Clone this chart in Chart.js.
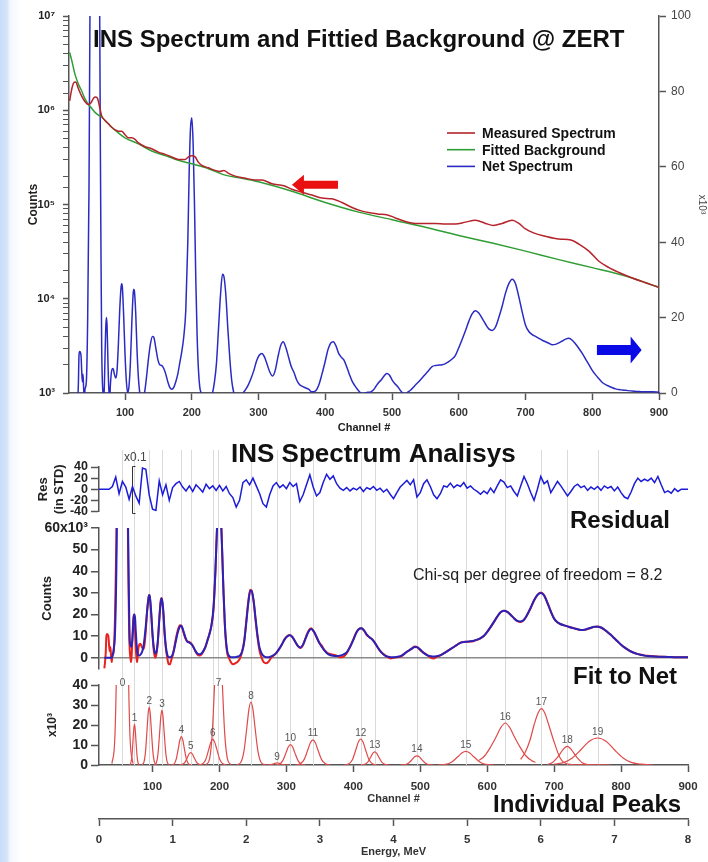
<!DOCTYPE html>
<html>
<head>
<meta charset="utf-8">
<title>INS Spectrum</title>
<script src="https://cdn.jsdelivr.net/npm/chart.js@4.4.1/dist/chart.umd.min.js"></script>
<style>
  html, body { margin: 0; padding: 0; }
  body {
    width: 708px; height: 862px; position: relative; overflow: hidden;
    background: linear-gradient(to right, #c9dcf8 0px, #d4e3fa 7px, #f3f7fd 10px, #ffffff 22px);
  }
  canvas { position: absolute; left: 0; }
  #top { top: 0; }
  #peaks { top: 440px; }
  #resid { top: 440px; }
  #fit { top: 515px; }
</style>
</head>
<body>
<canvas id="top" width="708" height="440"></canvas>
<canvas id="peaks" width="708" height="422"></canvas>
<canvas id="resid" width="708" height="82"></canvas>
<canvas id="fit" width="708" height="165"></canvas>
<script>
// ---- data ----

// measured spectrum and fitted background (counts, log axis)
const measChannels = [17, 20, 23, 26, 30, 35, 40, 45, 49, 53, 56, 59, 62, 65, 70, 75, 80, 85, 90, 95,
  100, 105, 110, 115, 120, 130, 140, 150, 160, 170, 180, 190, 195, 200, 205, 210, 215, 225, 235, 242,
  248, 255, 265, 280, 295, 305, 320, 338, 350, 365, 380, 395, 410, 425, 440, 455, 470, 480, 492, 505,
  520, 535, 550, 565, 580, 595, 610, 625, 640, 652, 665, 680, 690, 700, 712, 730, 750, 768, 780, 795,
  810, 825, 840, 860, 880, 900];
const measCounts = [1.26e6, 1.66e6, 1.95e6, 2.0e6, 1.70e6, 1.41e6, 1.23e6, 1.15e6, 1.20e6, 1.35e6, 1.38e6, 1.32e6, 1.07e6, 8.7e5, 7.8e5, 7.2e5, 6.6e5, 6.2e5, 6.0e5, 6.0e5,
  5.5e5, 5.1e5, 5.1e5, 4.9e5, 4.5e5, 4.1e5, 3.9e5, 3.6e5, 3.4e5, 3.2e5, 3.0e5, 3.0e5, 3.2e5, 3.3e5, 3.2e5, 2.8e5, 2.6e5, 2.45e5, 2.3e5, 2.24e5,
  2.3e5, 2.14e5, 2.0e5, 1.9e5, 1.82e5, 1.82e5, 1.66e5, 1.58e5, 1.45e5, 1.35e5, 1.26e5, 1.17e5, 1.15e5, 1.05e5, 9.3e4, 8.5e4, 8.1e4, 7.9e4, 7.8e4, 7.2e4,
  6.6e4, 6.3e4, 6.3e4, 6.3e4, 6.2e4, 6.2e4, 6.5e4, 6.8e4, 6.3e4, 6.0e4, 6.3e4, 6.8e4, 6.3e4, 5.5e4, 5.0e4, 4.6e4, 4.3e4, 4.2e4, 3.8e4, 3.2e4,
  2.5e4, 2.14e4, 1.9e4, 1.66e4, 1.48e4, 1.32e4];

const bgChannels = [17, 20, 25, 30, 35, 40, 45, 50, 55, 60, 65, 70, 80, 90, 100, 120, 140, 160, 180, 200,
  225, 250, 275, 300, 350, 400, 450, 500, 550, 600, 650, 700, 750, 800, 850, 900];
const bgCounts = [4.1e6, 3.4e6, 2.4e6, 1.9e6, 1.6e6, 1.32e6, 1.15e6, 1.05e6, 9.5e5, 8.9e5, 8.5e5, 7.8e5, 6.6e5, 5.75e5, 5.1e5, 4.4e5, 3.7e5, 3.3e5, 2.95e5, 2.7e5,
  2.4e5, 2.05e5, 1.9e5, 1.74e5, 1.38e5, 1.05e5, 8.3e4, 6.9e4, 5.75e4, 4.7e4, 3.9e4, 3.2e4, 2.6e4, 2.14e4, 1.74e4, 1.32e4];

// net spectrum and its fit (x10^3 counts)
const netChannels = [28, 30, 31, 32, 34, 35, 36, 37, 38, 39,
  40, 42, 44, 46, 48, 50, 53, 56, 58, 60,
  62, 63, 64, 65, 66, 67, 68, 69, 70, 71,
  72, 73, 74, 75, 76, 77, 78, 80, 82, 84,
  86, 88, 90, 92, 94, 95, 96, 98, 100, 102,
  104, 106, 108, 110, 112, 113, 114, 116, 118, 120,
  122, 124, 126, 128, 130, 132, 135, 138, 141, 143,
  146, 149, 152, 155, 158, 161, 164, 167, 170, 173,
  176, 179, 182, 185, 188, 191, 194, 196, 198, 200,
  202, 204, 206, 208, 210, 212, 214, 217, 220, 224,
  228, 231, 234, 237, 240, 243, 246, 248, 251, 254,
  257, 260, 263, 266, 270, 274, 277, 281, 285, 289,
  293, 297, 301, 305, 309, 313, 317, 321, 325, 329,
  333, 337, 341, 345, 349, 353, 357, 361, 365, 370,
  375, 380, 385, 390, 395, 400, 404, 408, 412, 416,
  420, 424, 428, 432, 436, 440, 444, 448, 452, 456,
  460, 464, 468, 472, 476, 480, 484, 488, 492, 496,
  500, 504, 508, 512, 516, 520, 524, 528, 532, 536,
  540, 545, 550, 555, 560, 565, 570, 575, 580, 585,
  590, 595, 600, 605, 610, 615, 620, 625, 630, 635,
  640, 645, 650, 655, 660, 665, 670, 675, 680, 685,
  690, 695, 700, 705, 710, 715, 720, 725, 730, 735,
  740, 745, 750, 755, 760, 765, 770, 775, 780, 785,
  790, 795, 800, 805, 810, 815, 820, 825, 830, 835,
  840, 845, 850, 860, 870, 880, 890, 900];
const netCounts = [-5, 2, 10, 11, 10, 6, 3, 5, 1, -2,
  1, 3, 20, 55, 120, 200, 300, 330, 280, 180,
  100, 65, 35, 12, 3, 0, -2, 2, 10, 17,
  20, 18, 11, 4, 0, -2, 2, 6, 6.5, 5,
  4, 6, 13, 22, 28, 29, 28, 20, 10, 3,
  0, 2, 8, 18, 26, 27.5, 27, 21, 11, 4,
  0, -3, -3, -1, 1, 4, 9, 13, 15, 14.8,
  12, 9, 7.5, 7.3, 6.5, 5, 3, 1.5, 1, 1.5,
  3, 5, 8, 11, 15, 22, 40, 58, 70, 73,
  66, 50, 30, 15, 6, 1.5, 0, -2, -3, -2.5,
  -1.5, 0, 3, 8, 17, 26, 31.5, 31, 26, 17,
  9, 3, 0, -2, -2.5, -1.5, 0, 1, 2.3, 4,
  6, 8.5, 10, 10.5, 9.5, 7.5, 5.5, 4.5, 6, 9.5,
  12.5, 13.6, 12, 9.5, 7, 5.5, 3.5, 2.3, 1.8, 1.4,
  1, 0.3, 0.5, 2, 5, 8.5, 11.5, 13.2, 13.6, 12.5,
  10.5, 9.5, 8.7, 7, 5, 3.2, 2, 1, 0.2, -0.3,
  0, 0.2, 0.3, 0.8, 1.8, 2.8, 3.5, 4.5, 5.2, 4.8,
  3.5, 2.5, 1.8, 0.8, 0, -0.3, 0.3, 0.8, 1.5, 2.3,
  3, 4, 5, 6, 7, 7.3, 7.4, 7.5, 7.8, 8.3,
  9, 10, 12, 14.2, 16.5, 19, 21, 21.8, 21.2, 19.8,
  18.3, 17, 16.6, 17.5, 20, 23, 26.5, 29, 30.2, 29,
  25.5, 21.5, 18, 16.3, 15.5, 15, 14.5, 14, 13.6, 13.2,
  12.8, 12.9, 13.3, 13.8, 14.3, 14.5, 14, 13, 11.8, 10.5,
  9, 7.5, 6, 4.8, 3.8, 2.8, 2.2, 1.8, 1.4, 1.1,
  0.9, 0.8, 0.7, 0.5, 0.4, 0.3, 0.3, 0.2];
const fitCounts = [0, 0, 0, 0, 0, 0, 0, 0, 0, 0,
  0.7, 4, 12, 42, 100, 190, 290, 325, 290, 190,
  110, 72, 45, 22, 8, 6, 5, 6, 9, 14,
  19, 20, 18, 12, 7, 3.5, 1.5, 1, 1.5, 2.5,
  4.5, 9, 15, 22, 27.5, 29, 28, 21, 11, 4.5,
  2, 3, 8, 17, 25, 27, 27.5, 22, 12, 5,
  1.5, 0.3, 0.2, 0.5, 1.5, 3.5, 8, 12, 14.5, 14.8,
  12.5, 9.5, 7.5, 7, 6.3, 5, 3.2, 2, 1.6, 2,
  3.2, 5, 8, 11, 15, 23, 41, 57, 70, 72,
  66, 49, 31, 16, 7, 2.5, 1, 0.3, 0.2, 0.3,
  0.6, 1.2, 3, 7.5, 16, 25, 31, 31, 26.5, 18,
  10, 4.5, 2, 0.8, 0.3, 0.3, 0.6, 1.2, 2.3, 4,
  6, 8.3, 9.8, 10.4, 9.6, 7.5, 5.5, 4.8, 6.2, 9.2,
  12, 13.3, 12.2, 9.7, 7, 5, 3.3, 2, 1.3, 0.9,
  0.8, 1, 1.5, 2.5, 5, 8.3, 11.3, 13.2, 13.7, 12.7,
  10.8, 9.5, 8.5, 7, 5, 3.2, 1.8, 0.9, 0.5, 0.3,
  0.3, 0.4, 0.6, 1, 1.8, 2.8, 3.6, 4.4, 5, 4.8,
  3.8, 2.6, 1.6, 1, 0.7, 0.6, 0.7, 1, 1.5, 2.2,
  3, 4, 5, 6, 6.9, 7.3, 7.4, 7.6, 7.9, 8.4,
  9.1, 10.2, 12, 14.2, 16.6, 19, 21, 21.7, 21.2, 19.9,
  18.3, 17.1, 16.8, 17.6, 20, 23.2, 26.6, 29.1, 30, 28.8,
  25.3, 21.4, 18.1, 16.4, 15.5, 15, 14.5, 14, 13.6, 13.2,
  12.9, 13, 13.4, 13.9, 14.3, 14.4, 14, 13.1, 11.8, 10.5,
  9, 7.5, 6, 4.8, 3.8, 2.9, 2.2, 1.7, 1.3, 1,
  0.8, 0.7, 0.6, 0.5, 0.4, 0.3, 0.3, 0.2];

// residual in STD, one value every 5 channels from channel 20
const residStart = 20;
const residStep = 5;
const residuals = [0, 0, 0, 0, 5, 22, -8, 14, 4, -18,
  5, -12, -25, 38, 36, -10, -36, -38, 15, -10,
  8, -20, 3, 10, 14, 4, -3, 6, -4, 8,
  2, -5, 9, 1, 6, -2, 7, -3, 5, -8,
  -15, -32, -20, 12, 17, 8, 20, 6, -8, -26,
  -32, -10, 6, 12, 3, 8, 1, 12, 5, 10,
  -22, -10, 8, 26, 4, -12, -6, 12, 27, 18,
  24, 10, 2, -2, 3, -3, 2, -1, 4, -4,
  3, 0, 5, -2, 2, -5, 0, -9, -17, -6,
  4, 10, 16, 8, 17, -14, -6, 10, 17, 5,
  -10, -17, -8, 6, 4, 11, 3, 8, 5, 12,
  2, 6, 0, -4, -9, -3, -8, 2, -6, 6,
  17, 13, 3, 6, -4, -12, 6, 23, 10, -6,
  -20, 0, 23, 10, 15, -6, 4, 14, 6, -3,
  -12, -4, 5, 9, 3, 6, -2, 4, 0, 5,
  -2, 6, 2, 5, -3, 4, -6, -14, -17, -5,
  10, 20, 14, 18, 15, 20, 12, 23, 8, -6,
  -3, -7, 1, -4, 0, 0, 0];

// individual fitted peaks (x10^3 counts)
const peakCentroids = [55, 73, 95, 114, 143, 157, 190, 198.5, 247, 286, 306, 339.5, 411, 432, 495, 568, 627, 681, 719.5, 765];
const peakChannels = [
  [39.3, 43.8, 47.1, 50.5, 52.8, 55, 57.3, 59.5, 62.9, 66.3, 70.8],
  [65.3, 67.5, 69.2, 70.8, 71.9, 73, 74.1, 75.2, 76.9, 78.5, 80.7],
  [83.8, 87, 89.4, 91.8, 93.4, 95, 96.6, 98.2, 100.6, 103, 106.2],
  [102.5, 105.8, 108.2, 110.7, 112.4, 114, 115.6, 117.3, 119.8, 122.2, 125.5],
  [128, 132.3, 135.5, 138.7, 140.9, 143, 145.2, 147.3, 150.5, 153.8, 158],
  [139.5, 144.5, 148.3, 152, 154.5, 157, 159.5, 162, 165.8, 169.5, 174.5],
  [169, 175, 179.5, 184, 187, 190, 193, 196, 200.5, 205, 211],
  [180, 185.3, 189.2, 193.2, 195.9, 198.5, 201.2, 203.8, 207.8, 211.8, 217],
  [226, 232, 236.5, 241, 244, 247, 250, 253, 257.5, 262, 268],
  [268.5, 273.5, 277.3, 281, 283.5, 286, 288.5, 291, 294.8, 298.5, 303.5],
  [283.3, 289.8, 294.6, 299.5, 302.8, 306, 309.3, 312.5, 317.4, 322.3, 328.8],
  [313.3, 320.8, 326.4, 332, 335.8, 339.5, 343.3, 347, 352.6, 358.3, 365.8],
  [386.5, 393.5, 398.8, 404, 407.5, 411, 414.5, 418, 423.3, 428.5, 435.5],
  [411, 417, 421.5, 426, 429, 432, 435, 438, 442.5, 447, 453],
  [470.5, 477.5, 482.8, 488, 491.5, 495, 498.5, 502, 507.3, 512.5, 519.5],
  [526, 538, 547, 556, 562, 568, 574, 580, 589, 598, 610],
  [588, 596, 605, 614, 620, 627, 634, 640, 649, 658, 666, 672],
  [650, 657, 664, 670, 676, 681, 686, 692, 699, 709, 720, 740, 785],
  [690, 697, 704, 710, 715, 719.5, 724, 729, 735, 742, 750, 760],
  [700, 715, 727, 740, 752, 765, 778, 790, 803, 815, 830, 848]
];
const peakCounts = [
  [0.7, 14.5, 71, 200, 291, 330, 291, 200, 71, 14.5, 0.7],
  [0, 0.9, 4.4, 12.3, 17.9, 20.3, 17.9, 12.3, 4.4, 0.9, 0],
  [0.1, 1.3, 6.3, 17.6, 25.6, 29, 25.6, 17.6, 6.3, 1.3, 0.1],
  [0.1, 1.2, 5.9, 16.7, 24.3, 27.5, 24.3, 16.7, 5.9, 1.2, 0.1],
  [0, 0.6, 3.1, 8.6, 12.5, 14.2, 12.5, 8.6, 3.1, 0.6, 0],
  [0, 0.3, 1.3, 3.8, 5.5, 6.2, 5.5, 3.8, 1.3, 0.3, 0],
  [0, 0.6, 2.8, 7.8, 11.3, 12.8, 11.3, 7.8, 2.8, 0.6, 0],
  [0.1, 3.2, 15.8, 44.3, 64.4, 73, 64.4, 44.3, 15.8, 3.2, 0.1],
  [0.1, 1.4, 6.8, 19.1, 27.8, 31.5, 27.8, 19.1, 6.8, 1.4, 0.1],
  [0, 0, 0.2, 0.6, 0.9, 1, 0.9, 0.6, 0.2, 0, 0],
  [0, 0.4, 2.2, 6.2, 9, 10.2, 9, 6.2, 2.2, 0.4, 0],
  [0, 0.6, 2.7, 7.6, 11.1, 12.6, 11.1, 7.6, 2.7, 0.6, 0],
  [0, 0.6, 2.8, 7.9, 11.5, 13, 11.5, 7.9, 2.8, 0.6, 0],
  [0, 0.3, 1.4, 4, 5.8, 6.6, 5.8, 4, 1.4, 0.3, 0],
  [0, 0.2, 1, 2.8, 4.1, 4.6, 4.1, 2.8, 1, 0.2, 0],
  [0, 0.3, 1.5, 4.1, 6, 6.8, 6, 4.1, 1.5, 0.3, 0],
  [2.3, 4.5, 9, 14.5, 18.5, 21, 18.5, 14.5, 9, 4.5, 2.3, 1.3],
  [2.8, 6.5, 12.5, 20, 26, 28.2, 26, 20, 12.5, 3.5, 0.5, 0.1, 0],
  [0.3, 1.1, 3.4, 6.2, 8.4, 9.3, 8.4, 6.2, 3.4, 1.1, 0.2, 0],
  [0.4, 1.3, 3.5, 7.6, 11.8, 13.5, 11.8, 7.6, 3.5, 1.3, 0.4, 0]
];

// tick values
const channelTicks = [100, 200, 300, 400, 500, 600, 700, 800, 900];
const energyTicks = [0, 1, 2, 3, 4, 5, 6, 7, 8];
const rightTicks = [0, 20, 40, 60, 80, 100];
const residTicks = [-40, -20, 0, 20, 40];
const fitTicks = [0, 10, 20, 30, 40, 50, 60];
const peakTicks = [0, 10, 20, 30, 40];

// ---- drawing ----
const FONT = "'Liberation Sans', Arial, Helvetica, sans-serif";
Chart.defaults.font.family = FONT;
Chart.defaults.color = '#222';

function pts(xs, ys) {
  return xs.map((x, i) => ({ x: x, y: ys[i] }));
}
function fixTicks(list) {
  return function (s) { s.ticks = list.map(v => ({ value: v })); };
}
const SUP = { '0': '⁰', '1': '¹', '2': '²', '3': '³', '4': '⁴', '5': '⁵', '6': '⁶', '7': '⁷', '8': '⁸', '9': '⁹' };
function decade(v) {
  const e = Math.log10(v);
  if (Math.abs(e - Math.round(e)) > 1e-6) return '';
  return '10' + String(Math.round(e)).split('').map(c => SUP[c]).join('');
}
function arrow(c, x0, x1, yc, shaft, headLen, headH, color) {
  const dir = Math.sign(x1 - x0);
  const xb = x1 - dir * headLen;
  c.fillStyle = color;
  c.beginPath();
  c.moveTo(x0, yc - shaft / 2);
  c.lineTo(xb, yc - shaft / 2);
  c.lineTo(xb, yc - headH / 2);
  c.lineTo(x1, yc);
  c.lineTo(xb, yc + headH / 2);
  c.lineTo(xb, yc + shaft / 2);
  c.lineTo(x0, yc + shaft / 2);
  c.closePath();
  c.fill();
}

const baseOpts = {
  responsive: false,
  animation: false,
  events: [],
  elements: { point: { radius: 0 }, line: { cubicInterpolationMode: 'monotone' } }
};
const noPlugins = { legend: { display: false }, tooltip: { enabled: false } };
const axisLine = { color: '#555', width: 1.5 };

// top chart: spectrum and background
const topDecor = {
  id: 'topDecor',
  afterDraw(chart) {
    const c = chart.ctx;
    const x = chart.scales.x, y = chart.scales.y, y2 = chart.scales.y2;
    c.save();
    c.fillStyle = '#111';
    c.font = 'bold 24px ' + FONT;
    c.textBaseline = 'alphabetic';
    c.fillText('INS Spectrum and Fittied Background @ ZERT', 93, 47);
    chart.data.datasets.forEach((ds, i) => {
      const ly = 133 + i * 16.7;
      c.strokeStyle = ds.borderColor;
      c.lineWidth = 1.6;
      c.beginPath();
      c.moveTo(447, ly);
      c.lineTo(475, ly);
      c.stroke();
      c.font = 'bold 14px ' + FONT;
      c.textBaseline = 'middle';
      c.fillStyle = '#111';
      c.fillText(ds.label, 482, ly + 1);
    });
    arrow(c, x.getPixelForValue(419), x.getPixelForValue(350), y.getPixelForValue(1.62e5), 8, 12, 20, '#e81010');
    arrow(c, x.getPixelForValue(807), x.getPixelForValue(874), y2.getPixelForValue(11.4), 10, 11, 27, '#0a0ae6');
    c.restore();
  }
};

new Chart(document.getElementById('top'), {
  type: 'line',
  data: {
    datasets: [
      { label: 'Measured Spectrum', data: pts(measChannels, measCounts), borderColor: '#b5232b', borderWidth: 1.5, yAxisID: 'y' },
      { label: 'Fitted Background', data: pts(bgChannels, bgCounts), borderColor: '#2f9e35', borderWidth: 1.5, yAxisID: 'y' },
      { label: 'Net Spectrum', data: pts(netChannels, netCounts), borderColor: '#2b2bc4', borderWidth: 1.5, yAxisID: 'y2' }
    ]
  },
  options: Object.assign({}, baseOpts, {
    layout: { padding: { top: 16, left: 0, right: 0, bottom: 0 } },
    plugins: noPlugins,
    scales: {
      x: {
        type: 'linear', min: 16, max: 900,
        afterBuildTicks: fixTicks(channelTicks),
        afterFit: s => { s.height = 47; },
        grid: { drawOnChartArea: false, tickLength: 7, tickColor: '#555', tickWidth: 1.5 },
        border: axisLine,
        ticks: { font: { size: 11, weight: 'bold' }, color: '#333', padding: 6, maxRotation: 0, autoSkip: false },
        title: { display: true, text: 'Channel #', font: { size: 11, weight: 'bold' }, color: '#222', padding: { top: 0, bottom: 5 } }
      },
      y: {
        type: 'logarithmic', position: 'left', min: 1e3, max: 1e7,
        afterFit: s => { s.width = 69; },
        grid: { drawOnChartArea: false, tickLength: 6, tickColor: '#555', tickWidth: ctx => (ctx.tick && decade(ctx.tick.value) ? 1.5 : 1) },
        border: axisLine,
        ticks: { callback: v => decade(v), font: { size: 11, weight: 'bold' }, color: '#222', padding: 8, autoSkip: false },
        title: { display: true, text: 'Counts', font: { size: 12, weight: 'bold' }, color: '#222', padding: { top: 26, bottom: 0 } }
      },
      y2: {
        type: 'linear', position: 'right', min: 0, max: 100,
        afterBuildTicks: fixTicks(rightTicks),
        afterFit: s => { s.width = 49; },
        grid: { drawOnChartArea: false, tickLength: 7, tickColor: '#555', tickWidth: 1.5 },
        border: axisLine,
        ticks: { font: { size: 12 }, color: '#444', padding: 5, autoSkip: false },
        title: { display: true, text: 'x10³', font: { size: 10 }, color: '#444', padding: 0 }
      }
    }
  }),
  plugins: [topDecor]
});

// bottom chart: individual peaks, plus the shared texts and peak grid lines
const bottomDecor = {
  id: 'bottomDecor',
  beforeDatasetsDraw(chart) {
    const c = chart.ctx, x = chart.scales.x;
    c.save();
    c.strokeStyle = '#dadada';
    c.lineWidth = 1;
    peakCentroids.forEach(ch => {
      const px = Math.round(x.getPixelForValue(ch)) + 0.5;
      c.beginPath();
      c.moveTo(px, 10);
      c.lineTo(px, chart.chartArea.bottom);
      c.stroke();
    });
    c.restore();
  },
  afterDraw(chart) {
    const c = chart.ctx, x = chart.scales.x, y = chart.scales.y;
    const top = chart.chartArea.top;
    c.save();
    c.fillStyle = '#111';
    c.textBaseline = 'alphabetic';
    c.font = 'bold 26px ' + FONT;
    c.fillText('INS Spectrum Analisys', 231, 22);
    c.font = 'bold 24px ' + FONT;
    c.fillText('Residual', 570, 88);
    c.fillText('Fit to Net', 573, 244);
    c.fillText('Individual Peaks', 493, 372);
    c.font = '16px ' + FONT;
    c.fillStyle = '#222';
    c.fillText('Chi-sq per degree of freedom = 8.2', 413, 140);
    // x0.1 bracket on the residual
    c.font = '12px ' + FONT;
    c.fillStyle = '#444';
    c.textBaseline = 'middle';
    c.fillText('x0.1', 124, 18);
    const bx = Math.round(x.getPixelForValue(70)) + 0.5;
    c.strokeStyle = '#333';
    c.lineWidth = 1;
    c.beginPath();
    c.moveTo(bx + 3, 26.5); c.lineTo(bx, 26.5); c.lineTo(bx, 73.5); c.lineTo(bx + 3, 73.5);
    c.stroke();
    // peak numbers
    c.font = '10px ' + FONT;
    c.fillStyle = '#555';
    c.textAlign = 'center';
    c.textBaseline = 'alphabetic';
    peakCentroids.forEach((ch, i) => {
      const h = Math.min(Math.max(...peakCounts[i]), 40);
      const py = Math.max(y.getPixelForValue(h) - 3.5, top + 1);
      c.fillText(String(i), x.getPixelForValue(ch), py);
    });
    c.restore();
  }
};

new Chart(document.getElementById('peaks'), {
  type: 'line',
  data: {
    datasets: peakChannels.map((chs, i) => ({
      data: pts(chs, peakCounts[i]), borderColor: '#e04a4a', borderWidth: 1.2
    }))
  },
  options: Object.assign({}, baseOpts, {
    layout: { padding: { top: 245, left: 0, right: 20, bottom: 0 } },
    plugins: noPlugins,
    scales: {
      x: {
        type: 'linear', position: 'bottom', weight: 0, min: 20, max: 900,
        afterBuildTicks: fixTicks(channelTicks),
        afterFit: s => { s.height = 54; },
        grid: { drawOnChartArea: false, tickLength: 7, tickColor: '#555', tickWidth: 1.5 },
        border: axisLine,
        ticks: { font: { size: 11.5, weight: 'bold' }, color: '#333', padding: 8, maxRotation: 0, autoSkip: false },
        title: { display: true, text: 'Channel #', font: { size: 11, weight: 'bold' }, color: '#333', padding: { top: 0, bottom: 13.5 } }
      },
      x2: {
        type: 'linear', position: 'bottom', weight: 1, min: 0, max: 8,
        afterBuildTicks: fixTicks(energyTicks),
        afterFit: s => { s.height = 43; },
        grid: { drawOnChartArea: false, tickLength: 7, tickColor: '#555', tickWidth: 1.5 },
        border: axisLine,
        ticks: { font: { size: 11.5, weight: 'bold' }, color: '#333', padding: 7, maxRotation: 0, autoSkip: false },
        title: { display: true, text: 'Energy, MeV', font: { size: 11, weight: 'bold' }, color: '#333', padding: { top: 0, bottom: 3.5 } }
      },
      y: {
        min: 0, max: 40,
        afterBuildTicks: fixTicks(peakTicks),
        afterFit: s => { s.width = 99; },
        grid: { drawOnChartArea: false, tickLength: 8, tickColor: '#555', tickWidth: 1.5 },
        border: axisLine,
        ticks: { font: { size: 14, weight: 'bold' }, color: '#222', padding: 3, autoSkip: false },
        title: { display: true, text: 'x10³', font: { size: 12, weight: 'bold' }, color: '#222', padding: { top: 45, bottom: 0 } }
      }
    }
  }),
  plugins: [bottomDecor]
});

// residual panel
new Chart(document.getElementById('resid'), {
  type: 'line',
  data: {
    datasets: [{
      data: residuals.map((v, i) => ({ x: residStart + i * residStep, y: v })),
      borderColor: '#1c1cd8', borderWidth: 1.5, cubicInterpolationMode: 'default', tension: 0
    }]
  },
  options: Object.assign({}, baseOpts, {
    layout: { padding: { top: 27, left: 0, right: 20, bottom: 9 } },
    plugins: noPlugins,
    scales: {
      x: { type: 'linear', min: 20, max: 900, display: false },
      y: {
        min: -40, max: 40,
        afterBuildTicks: fixTicks(residTicks),
        afterFit: s => { s.width = 99; },
        grid: { drawOnChartArea: false, tickLength: 8, tickColor: '#555', tickWidth: 1.5 },
        border: axisLine,
        ticks: { font: { size: 12.5, weight: 'bold' }, color: '#222', padding: 3, autoSkip: false },
        title: { display: true, text: ['Res', '(in STD)'], font: { size: 13, weight: 'bold' }, color: '#222', padding: { top: 36, bottom: 0 } }
      }
    }
  })
});

// fit to net panel
new Chart(document.getElementById('fit'), {
  type: 'line',
  data: {
    datasets: [
      { label: 'Fit', data: pts(netChannels, fitCounts), borderColor: '#2b22b8', borderWidth: 2 },
      { label: 'Net', data: pts(netChannels, netCounts), borderColor: '#e8221e', borderWidth: 2 }
    ]
  },
  options: Object.assign({}, baseOpts, {
    layout: { padding: { top: 13, left: 0, right: 20, bottom: 10 } },
    plugins: noPlugins,
    scales: {
      x: { type: 'linear', min: 20, max: 900, display: false },
      y: {
        min: -5, max: 60,
        afterBuildTicks: fixTicks(fitTicks),
        afterFit: s => { s.width = 99; },
        grid: {
          drawOnChartArea: true, lineWidth: 1.5,
          color: ctx => (ctx.tick && ctx.tick.value === 0 ? '#8a8a8a' : 'rgba(0,0,0,0)'),
          tickLength: 8, tickColor: '#555', tickWidth: 1.5
        },
        border: axisLine,
        ticks: { callback: v => (v === 60 ? '60x10³' : v), font: { size: 14, weight: 'bold' }, color: '#222', padding: 3, autoSkip: false },
        title: { display: true, text: 'Counts', font: { size: 13, weight: 'bold' }, color: '#222', padding: { top: 40, bottom: 0 } }
      }
    }
  })
});
</script>
</body>
</html>
